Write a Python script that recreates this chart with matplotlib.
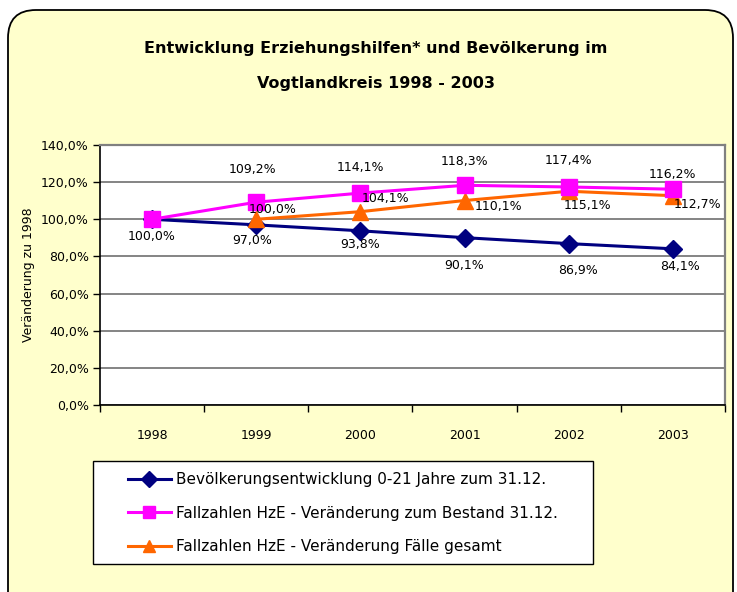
import numpy as np
import matplotlib
matplotlib.use('Agg')
import matplotlib.pyplot as plt
from matplotlib.patches import FancyBboxPatch, Rectangle
from matplotlib.ticker import FixedLocator, FuncFormatter

# Data
years = ['1998', '1999', '2000', '2001', '2002', '2003']
bevoelkerung = [100.0, 97.0, 93.8, 90.1, 86.9, 84.1]
bestand = [100.0, 109.2, 114.1, 118.3, 117.4, 116.2]
faelle = [np.nan, 100.0, 104.1, 110.1, 115.1, 112.7]
series_labels = [
	'Bevölkerungsentwicklung 0-21 Jahre zum 31.12.',
	'Fallzahlen HzE - Veränderung zum Bestand 31.12.',
	'Fallzahlen HzE - Veränderung Fälle gesamt',
]
title = 'Entwicklung Erziehungshilfen* und Bevölkerung im\nVogtlandkreis 1998 - 2003'
y_label = 'Veränderung zu 1998'

# Label offsets in pixels (dx, dy up), tuned by eye
PX = 0.72
blue_off = [(0, -17), (-4, -16), (0, -14), (0, -28), (9, -27), (7, -18)]
pink_off = [None, (-4, 33), (0, 26), (0, 24), (0, 26), (0, 15)]
orange_off = [None, (16, 10), (25, 13), (34, -6), (19, -14), (25, -9)]

W, H = 737, 592
fig = plt.figure(figsize=(W / 100, H / 100), dpi=100)

# Rounded yellow chart area
bg = fig.add_axes([0, 0, 1, 1])
bg.set_xlim(0, W)
bg.set_ylim(H, 0)
bg.axis('off')
bg.add_patch(FancyBboxPatch((8, 10), 725, 640, boxstyle='round,pad=0,rounding_size=28',
	fc='#FFFFCC', ec='black', lw=1.3))
bg.text(376, 66, title, ha='center', va='center', fontsize=11.5, fontweight='bold',
	linespacing=2.6)

# legend frame drawn by hand so the padding can match
bg.add_patch(Rectangle((93, 461), 500, 103, fc='white', ec='black', lw=1.0, zorder=2))

# Plot area
ax = fig.add_axes([100 / W, 1 - 405 / H, 625 / W, 260 / H])
ax.set_facecolor('white')
x = np.arange(len(years))
l1, = ax.plot(x, bevoelkerung, color='#000080', lw=2.2, marker='D', ms=9, zorder=3)
l2, = ax.plot(x, bestand, color='#FF00FF', lw=2.2, marker='s', ms=12, zorder=4)
l3, = ax.plot(x, faelle, color='#FF6600', lw=2.2, marker='^', ms=12, zorder=3)

def fmt(v):
	return ('%.1f%%' % v).replace('.', ',')

for vals, offs in [(bevoelkerung, blue_off), (bestand, pink_off), (faelle, orange_off)]:
	for i, v in enumerate(vals):
		if offs[i] is None or np.isnan(v):
			continue
		dx, dy = offs[i]
		ax.annotate(fmt(v), (i, v), xytext=(dx * PX, dy * PX), textcoords='offset points',
			ha='center', va='center', fontsize=9, zorder=5)

ax.set_xlim(-0.5, len(years) - 0.5)
ax.set_ylim(0, 140)
ax.yaxis.set_major_locator(FixedLocator(np.arange(0, 141, 20)))
ax.yaxis.set_major_formatter(FuncFormatter(lambda v, p: fmt(v)))
ax.grid(axis='y', color='#707070', lw=1.2)
ax.set_axisbelow(True)
ax.xaxis.set_major_locator(FixedLocator(np.arange(-0.5, len(years), 1.0)))
ax.xaxis.set_major_formatter(FuncFormatter(lambda v, p: ''))
ax.xaxis.set_minor_locator(FixedLocator(x))
ax.set_xticklabels(years, minor=True)
ax.tick_params(axis='x', which='minor', length=0, pad=17, labelsize=9)
ax.tick_params(axis='x', which='major', length=5, direction='out', width=1)
ax.tick_params(axis='y', length=5, direction='out', width=1, labelsize=9, pad=3)
ax.set_ylabel(y_label, fontsize=9, labelpad=4)
for s in ['left', 'bottom']:
	ax.spines[s].set_color('black')
	ax.spines[s].set_linewidth(1.2)
for s in ['top', 'right']:
	ax.spines[s].set_color('#808080')
	ax.spines[s].set_linewidth(1.6)

# Legend (no frame, the frame is the rectangle above)
leg = fig.legend([l1, l2, l3], series_labels, loc='upper left',
	bbox_to_anchor=(128 / W, 1 - 472 / H), borderaxespad=0, borderpad=0,
	fontsize=11, handlelength=2.8, handletextpad=0.35, labelspacing=1.22,
	frameon=False)
leg.set_zorder(3)
for h in leg.legend_handles:
	h.set_markersize(8)

fig.savefig('out.png', dpi=100)
